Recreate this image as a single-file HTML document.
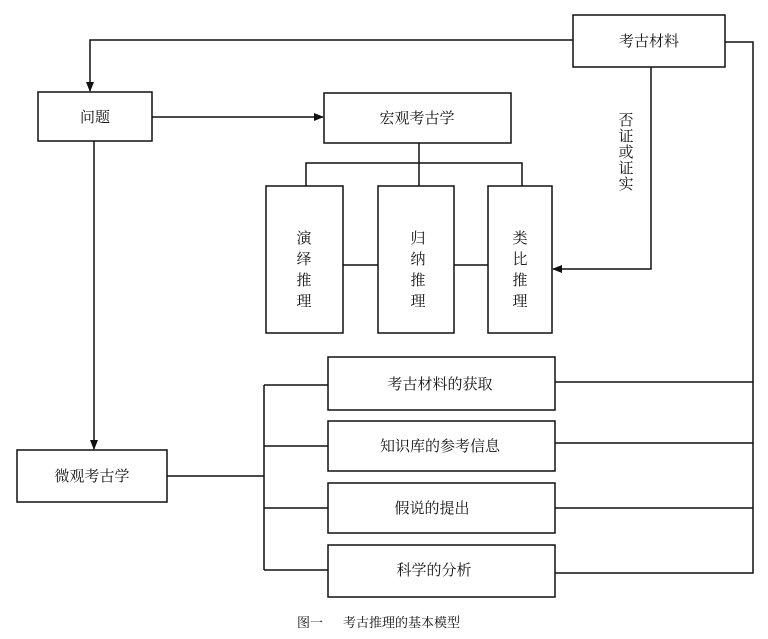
<!DOCTYPE html>
<html><head><meta charset="utf-8"><style>
body{margin:0;background:#fff;width:768px;height:634px;overflow:hidden}
svg text{font-family:"Liberation Serif","Noto Serif CJK SC","Noto Sans CJK SC",serif;fill:#111}
</style></head><body>
<svg width="768" height="634" viewBox="0 0 768 634" xmlns="http://www.w3.org/2000/svg">
<defs><marker id="a" markerWidth="10" markerHeight="8" refX="9" refY="4" orient="auto" markerUnits="userSpaceOnUse"><path d="M0,0 L10,4 L0,8 Z" fill="#111"/></marker></defs>
<g fill="none" stroke="#111" stroke-width="1.5">
<rect x="573" y="15" width="152" height="52"/>
<rect x="38" y="92" width="114" height="49"/>
<rect x="324" y="93" width="187" height="50"/>
<rect x="266" y="186" width="77" height="147"/>
<rect x="378" y="186" width="76" height="147"/>
<rect x="488" y="186" width="64" height="147"/>
<rect x="17" y="450" width="150" height="52"/>
<rect x="328" y="357" width="227" height="53"/>
<rect x="328" y="421" width="227" height="50"/>
<rect x="328" y="483" width="227" height="50"/>
<rect x="328" y="545" width="227" height="52"/>
<polyline points="573,40 90,40 90,91" marker-end="url(#a)"/>
<line x1="152" y1="117" x2="323" y2="117" marker-end="url(#a)"/>
<line x1="419" y1="143" x2="419" y2="163"/>
<polyline points="306,186 306,163 522,163 522,186"/>
<line x1="419" y1="163" x2="419" y2="186"/>
<line x1="343" y1="265" x2="378" y2="265"/>
<line x1="454" y1="265" x2="488" y2="265"/>
<polyline points="651,67 651,269 553,269" marker-end="url(#a)"/>
<polyline points="725,42 753,42 753,573 555,573"/>
<line x1="555" y1="382" x2="753" y2="382"/>
<line x1="555" y1="443" x2="753" y2="443"/>
<line x1="555" y1="508" x2="753" y2="508"/>
<line x1="94" y1="141" x2="94" y2="449" marker-end="url(#a)"/>
<line x1="167" y1="476" x2="264" y2="476"/>
<line x1="264" y1="385" x2="264" y2="570"/>
<line x1="264" y1="385" x2="328" y2="385"/>
<line x1="264" y1="446" x2="328" y2="446"/>
<line x1="264" y1="508" x2="328" y2="508"/>
<line x1="264" y1="570" x2="328" y2="570"/>
</g>
<g font-size="15" text-anchor="middle">
<text x="649" y="46">考古材料</text>
<text x="95" y="122">问题</text>
<text x="417" y="123">宏观考古学</text>
<text x="92" y="481">微观考古学</text>
<text x="440" y="389">考古材料的获取</text>
<text x="440" y="451">知识库的参考信息</text>
<text x="432" y="513">假说的提出</text>
<text x="434" y="575">科学的分析</text>
<text x="304" y="243">演</text><text x="304" y="264">绎</text><text x="304" y="285">推</text><text x="304" y="306">理</text>
<text x="418" y="243">归</text><text x="418" y="264">纳</text><text x="418" y="285">推</text><text x="418" y="306">理</text>
<text x="520" y="243">类</text><text x="520" y="264">比</text><text x="520" y="285">推</text><text x="520" y="306">理</text>
<text x="626" y="125">否</text><text x="626" y="141">证</text><text x="626" y="157">或</text><text x="626" y="173">证</text><text x="626" y="189">实</text>
</g>
<text x="297" y="627" font-size="13">图一</text>
<text x="343" y="627" font-size="13">考古推理的基本模型</text>
</svg>
</body></html>
